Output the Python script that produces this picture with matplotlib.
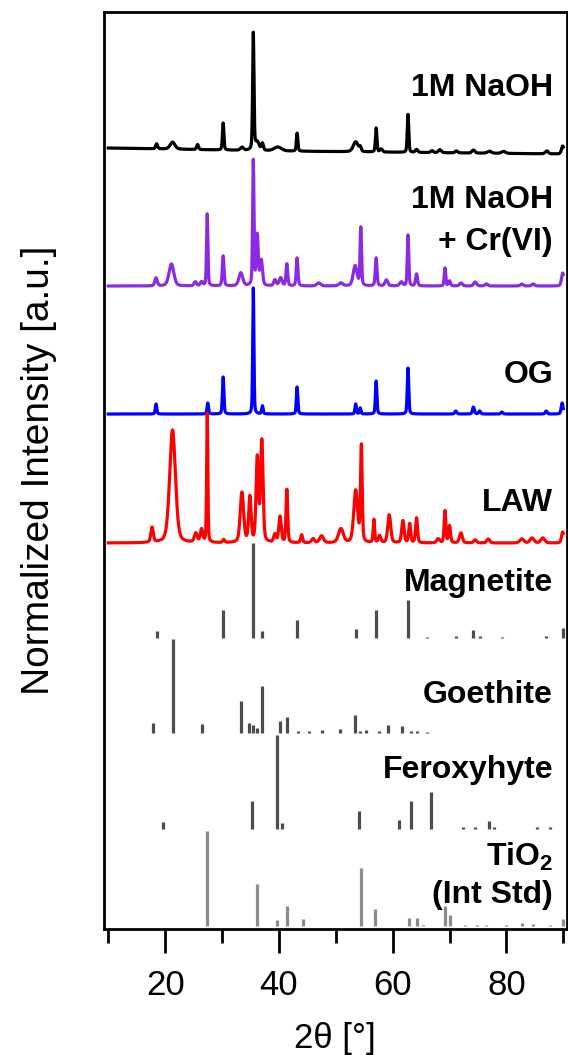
import numpy as np
import matplotlib
matplotlib.use("Agg")
import matplotlib.pyplot as plt

plt.rcParams['font.family'] = ['Liberation Sans', 'DejaVu Sans']
plt.rcParams['mathtext.fontset'] = 'custom'
plt.rcParams['mathtext.rm'] = 'Liberation Sans'
plt.rcParams['mathtext.bf'] = 'Liberation Sans:bold'

# measured patterns: peak position (2theta), height, fwhm  (heights in a.u.)
naoh_pos = [18.5, 21.3, 25.7, 30.2, 33.5, 35.5, 36.2, 37.1, 39.8, 43.2, 53.5, 54.3, 57.1, 58.0,
            62.7, 64.2, 66.9, 68.3, 71.2, 74.2, 77.0, 79.5, 87.1, 89.9]
naoh_h = [5, 7, 5, 27, 3, 117, 8, 7, 4, 18, 10, 4, 24, 3, 38, 3, 2, 3, 2, 3, 2, 2, 3, 8]
naoh_w = [0.4, 1.0, 0.4, 0.3, 0.6, 0.28, 0.8, 0.4, 1.5, 0.3, 1.0, 0.4, 0.3, 0.5, 0.3, 0.5, 0.5, 0.6,
          0.5, 0.6, 0.8, 0.8, 0.6, 0.5]
naoh_base_x = [10, 40, 90]
naoh_base_y = [0, -3, -6]

cr_pos = [18.4, 21.1, 25.3, 26.4, 27.4, 30.2, 33.3, 35.5, 36.2, 36.9, 39.3, 40.3, 41.4, 43.2, 47.0,
          50.9, 53.4, 54.4, 57.1, 58.9, 61.5, 62.7, 64.2, 69.2, 70.0, 72.0, 74.5, 76.5, 82.7, 84.7, 89.9]
cr_h = [8, 22, 4, 4, 72, 30, 13, 125, 50, 25, 6, 8, 22, 28, 3, 3, 20, 58, 28, 6, 4, 51, 12, 18, 5, 3,
        4, 2, 2, 2, 13]
cr_w = [0.5, 1.0, 0.5, 0.5, 0.28, 0.35, 0.8, 0.28, 0.4, 0.5, 0.5, 0.6, 0.35, 0.35, 0.8, 0.8, 0.8, 0.3,
        0.35, 0.6, 0.6, 0.3, 0.4, 0.3, 0.4, 0.6, 0.6, 0.6, 0.6, 0.6, 0.5]

og_pos = [18.4, 27.5, 30.2, 35.5, 37.1, 43.2, 53.5, 54.3, 57.1, 62.7, 71.1, 74.2, 75.3, 79.2, 87.0, 89.8]
og_h = [10, 11, 37, 126, 8, 27, 10, 6, 33, 46, 3, 7, 3, 2, 3, 11]
og_w = [0.3, 0.3, 0.3, 0.25, 0.3, 0.3, 0.3, 0.3, 0.3, 0.3, 0.4, 0.4, 0.4, 0.4, 0.4, 0.4]

law_pos = [17.7, 21.3, 25.4, 26.4, 27.4, 30.3, 33.5, 34.9, 36.2, 37.0, 39.3, 40.2, 41.4, 44.0, 46.0,
           47.5, 50.9, 53.5, 54.5, 56.7, 57.7, 59.4, 61.8, 63.0, 64.2, 68.0, 69.2, 70.0, 72.0, 74.5,
           76.8, 82.7, 84.5, 86.4, 89.9]
law_h = [15, 113, 9, 13, 129, 3, 50, 45, 84, 101, 8, 26, 53, 8, 4, 7, 14, 52, 96, 23, 7, 28, 22, 19,
         25, 4, 32, 17, 10, 3, 4, 4, 5, 5, 11]
law_w = [0.5, 1.2, 0.6, 0.5, 0.25, 0.4, 0.7, 0.5, 0.5, 0.5, 0.5, 0.5, 0.35, 0.4, 0.6, 0.8, 1.0, 0.8,
         0.35, 0.3, 0.5, 0.6, 0.5, 0.4, 0.4, 0.6, 0.35, 0.4, 0.6, 0.6, 0.6, 0.8, 0.8, 0.8, 0.5]

# reference sticks
mag_pos = [18.5, 30.2, 35.5, 37.1, 43.2, 53.5, 57.1, 62.7, 66.0, 71.1, 74.1, 75.3, 79.3, 87.0, 89.9]
mag_h = [7, 28, 95, 7, 18, 9, 28, 38, 1, 2, 8, 2, 1, 2, 10]

goe_pos = [17.8, 21.3, 26.4, 33.3, 34.7, 35.5, 36.2, 37.0, 40.2, 41.4, 43.4, 45.3, 47.5, 50.7, 53.4,
           54.2, 55.4, 57.6, 59.2, 61.6, 63.3, 64.2, 66.0]
goe_h = [10, 94, 9, 32, 10, 8, 5, 47, 12, 16, 2, 2, 3, 4, 18, 2, 3, 2, 8, 7, 2, 2, 1]

fer_pos = [19.6, 35.3, 39.6, 40.5, 54.0, 61.2, 63.2, 66.7, 72.4, 74.5, 77.0, 77.8, 85.3, 87.6]
fer_h = [7, 28, 94, 6, 18, 9, 28, 37, 2, 2, 8, 2, 2, 2]

tio_pos = [27.4, 36.2, 39.6, 41.4, 44.2, 54.5, 56.9, 62.9, 64.3, 65.4, 69.2, 70.0, 72.7, 74.8, 76.5,
           80.0, 82.7, 84.7, 87.6, 89.9]
tio_h = [95, 42, 6, 20, 7, 58, 17, 8, 8, 1, 20, 11, 1, 1, 1, 1, 3, 2, 1, 7]

labels = ["1M NaOH", "1M NaOH", "+ Cr(VI)", "OG", "LAW", "Magnetite", "Goethite", "Feroxyhyte",
          r"$\mathbf{TiO_2}$", "(Int Std)"]


def profile(x, pos, h, w, eta=0.35):
    y = np.zeros_like(x)
    for p, a, fw in zip(pos, h, w):
        g = np.exp(-4 * np.log(2) * ((x - p) / fw) ** 2)
        l = 1 / (1 + 4 * ((x - p) / fw) ** 2)
        y += a * (eta * l + (1 - eta) * g)
    return y


tt = np.linspace(10, 90, 4001)

fig = plt.figure(figsize=(5.68, 10.55), dpi=100)
ax = fig.add_axes([0.1831, 0.1194, 0.8146, 0.8692])

lw = 2.3
ax.plot(tt, 781 + np.interp(tt, naoh_base_x, naoh_base_y) + profile(tt, naoh_pos, naoh_h, naoh_w),
        color='black', lw=lw)
ax.plot(tt, 643 + profile(tt, cr_pos, cr_h, cr_w), color='#8a2be2', lw=lw)
ax.plot(tt, 515 + profile(tt, og_pos, og_h, og_w), color='#0000ff', lw=lw)
ax.plot(tt, 386 + profile(tt, law_pos, law_h, law_w), color='#ff0000', lw=lw)

sw = 2.3
ax.vlines(mag_pos, 291, 291 + np.array(mag_h), color='#4d4d4d', lw=sw)
ax.vlines(goe_pos, 196, 196 + np.array(goe_h), color='#4d4d4d', lw=sw)
ax.vlines(fer_pos, 100, 100 + np.array(fer_h), color='#4d4d4d', lw=sw)
ax.vlines(tio_pos, 3, 3 + np.array(tio_h), color='#8c8c8c', lw=sw)

label_y = [841, 729, 687, 554, 426, 346, 234, 159, 72, 34]
for t, yy in zip(labels, label_y):
    ax.text(88.2, yy, t, ha='right', va='center', fontsize=23, fontweight='bold')

ax.set_xlim(9.25, 90.6)
ax.set_ylim(0, 917)
ax.set_yticks([])
ax.set_xticks([20, 40, 60, 80])
ax.set_xticks([10, 30, 50, 70, 90], minor=True)
ax.tick_params(axis='x', which='major', direction='out', length=17, width=2.0, labelsize=25, pad=12)
ax.tick_params(axis='x', which='minor', direction='out', length=10, width=2.0)
for s in ax.spines.values():
    s.set_linewidth(2.0)
ax.set_xlabel("2θ [°]", fontsize=25, labelpad=14)
ax.set_ylabel("Normalized Intensity [a.u.]", fontsize=28, labelpad=34)

fig.savefig("out.png", dpi=100)
